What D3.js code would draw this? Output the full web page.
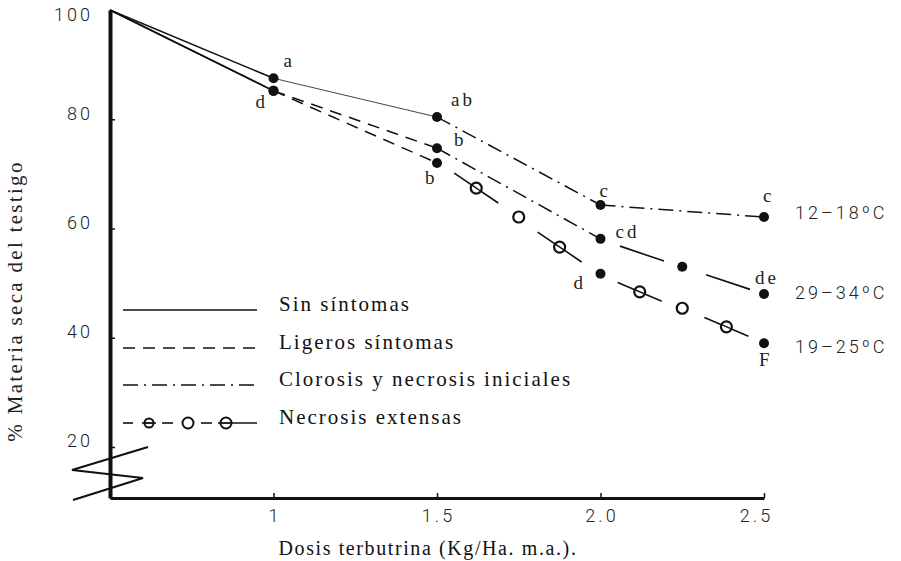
<!DOCTYPE html>
<html><head><meta charset="utf-8">
<script src="https://cdn.jsdelivr.net/npm/d3@7"></script>
<style>body{margin:0;background:#fff}</style>
</head><body>
<svg id="c" width="901" height="561"></svg>
<script>
// ---------------- data ----------------
const seriesNames = ["12–18ºC", "29–34ºC", "19–25ºC"];

const dose1218 = [0.5, 1.0, 1.5, 2.0, 2.5];
const dm1218   = [100, 87.5, 80.4, 64.3, 62.1];
const sig1218  = ["", "a", "ab", "c", "c"];
const sym1218  = ["sin", "sin", "clorosis", "clorosis"];

const dose2934 = [0.5, 1.0, 1.5, 2.0, 2.25, 2.5];
const dm2934   = [100, 85.2, 74.7, 58.1, 53.0, 48.0];
const sig2934  = ["", "d", "b", "cd", "", "de"];
const sym2934  = ["sin", "ligeros", "clorosis", "necrosis", "necrosis"];

const dose1925 = [0.5, 1.0, 1.5, 2.0, 2.5];
const dm1925   = [100, 85.2, 72.0, 51.7, 39.0];
const sig1925  = ["", "", "b", "d", "F"];
const sym1925  = ["sin", "ligeros", "necrosis", "necrosis"];

// marks of the "necrosis extensas" line pattern
const markDose1925 = [1.62, 1.75, 1.875, 2.12, 2.25, 2.385];
const markDm1925   = [67.4, 62.1, 56.6, 48.4, 45.4, 42.0];
const markType1925 = ["ringline", "ring", "ringline", "ringline", "ring", "ringline"];
const markDose2934 = [2.127, 2.39];
const markDm2934   = [55.4, 50.2];
const markType2934 = ["line", "line"];

const xTicks = [1, 1.5, 2.0, 2.5];
const xTickLabels = ["1", "1.5", "2.0", "2.5"];
const yTicks = [100, 80, 60, 40, 20];
const yAxisFloor = 10.66;   // broken axis bottom
const legendLabels = ["Sin síntomas", "Ligeros síntomas", "Clorosis y necrosis iniciales", "Necrosis extensas"];
const legendSymptoms = ["sin", "ligeros", "clorosis", "necrosis"];
const xTitle = "Dosis terbutrina (Kg/Ha. m.a.).";
const yTitle = "% Materia seca del testigo";

// ---------------- layout / styles ----------------
const INK = "#111";
const numFont = "Roboto, 'DejaVu Sans', sans-serif";
const serif = "'Liberation Serif', 'DejaVu Serif', serif";
const dashes = {sin: null, ligeros: "12 8", clorosis: "15 6 2 6"};

const svg = d3.select("#c");
const x = d3.scaleLinear().domain([0.5, 2.5]).range([110, 764]);
const y = d3.scaleLinear().domain([yAxisFloor, 100]).range([498, 10]);

// ---------------- axes ----------------
const xAxis = d3.axisBottom(x).tickValues(xTicks)
  .tickFormat((d, i) => xTickLabels[i]).tickSize(-5).tickSizeOuter(0).tickPadding(11);
const gx = svg.append("g").attr("transform", `translate(0,${y(yAxisFloor)})`).call(xAxis);
gx.select(".domain").attr("stroke", INK).attr("stroke-width", 3);
gx.selectAll(".tick line").attr("stroke", INK).attr("stroke-width", 1.5);
gx.selectAll(".tick text").attr("fill", "#222").attr("font-family", numFont)
  .attr("font-weight", 300).attr("font-size", 18).attr("letter-spacing", 3)
  .attr("dx", (d, i) => i === xTicks.length - 1 ? -8 : 1);

const yAxis = d3.axisLeft(y).tickValues(yTicks).tickSize(-5).tickSizeOuter(0).tickPadding(17);
const gy = svg.append("g").attr("transform", `translate(${x(0.5)},0)`).call(yAxis);
gy.select(".domain").attr("stroke", INK).attr("stroke-width", 4);
gy.selectAll(".tick line").attr("stroke", INK).attr("stroke-width", 1.5)
  .attr("opacity", d => d === 100 ? 0 : 1);
gy.selectAll(".tick text").attr("fill", "#222").attr("font-family", numFont)
  .attr("font-weight", 300).attr("font-size", 18).attr("letter-spacing", 3)
  .attr("y", d => d === 100 ? 5 : -6);

// axis break zigzag
const ox = x(0.5), oy = y(yAxisFloor);
svg.append("path")
  .attr("d", `M${ox-37},${oy+2}L${ox+33},${oy-20}L${ox-38},${oy-28}L${ox+38},${oy-51}`)
  .attr("fill", "none").attr("stroke", INK).attr("stroke-width", 2);

// titles
svg.append("text").attr("x", 428).attr("y", 555).attr("text-anchor", "middle")
  .attr("font-family", serif).attr("font-size", 20).attr("letter-spacing", 1.6)
  .attr("fill", INK).text(xTitle);
svg.append("text").attr("transform", "translate(22,301) rotate(-90)")
  .attr("text-anchor", "middle").attr("font-family", serif).attr("font-size", 21)
  .attr("letter-spacing", 2.3).attr("fill", "#222").text(yTitle);

// ---------------- series ----------------
const line = d3.line().x(d => x(d[0])).y(d => y(d[1]));

function drawSeries(dose, dm, sym, marks, sig, sigOff, thinIdx) {
  const g = svg.append("g");
  sym.forEach((s, i) => {
    if (s === "necrosis") return;
    g.append("path").attr("d", line([[dose[i], dm[i]], [dose[i+1], dm[i+1]]]))
      .attr("fill", "none").attr("stroke", i === thinIdx ? "#444" : INK)
      .attr("stroke-width", i === thinIdx ? 1 : 1.5)
      .attr("stroke-dasharray", dashes[s]);
  });
  if (marks) {
    marks.dose.forEach((md, j) => {
      let k = d3.bisectRight(dose, md) - 1;
      const slope = (y(dm[k+1]) - y(dm[k])) / (x(dose[k+1]) - x(dose[k]));
      const mx = x(md), my = y(marks.dm[j]);
      const t = marks.type[j];
      if (t === "line" || t === "ringline") {
        g.append("line").attr("x1", mx - 22).attr("y1", my - 22 * slope)
          .attr("x2", mx + 22).attr("y2", my + 22 * slope)
          .attr("stroke", INK).attr("stroke-width", 1.6);
      }
      if (t === "ring" || t === "ringline") {
        g.append("circle").attr("cx", mx).attr("cy", my).attr("r", 5.5)
          .attr("fill", "#fff").attr("stroke", INK).attr("stroke-width", 2.2);
        if (t === "ringline") {
          g.append("line").attr("x1", mx - 5).attr("y1", my - 5 * slope)
            .attr("x2", mx + 5).attr("y2", my + 5 * slope)
            .attr("stroke", INK).attr("stroke-width", 1.4);
        }
      }
    });
  }
  dose.forEach((d, i) => {
    if (i === 0) return;
    g.append("circle").attr("cx", x(d)).attr("cy", y(dm[i])).attr("r", 5).attr("fill", INK);
  });
  sig.forEach((s, i) => {
    if (!s) return;
    g.append("text").attr("x", x(dose[i]) + sigOff[i][0]).attr("y", y(dm[i]) + sigOff[i][1])
      .attr("font-family", serif).attr("font-size", 19).attr("letter-spacing", 3)
      .attr("fill", "#222").text(s);
  });
}

drawSeries(dose1218, dm1218, sym1218, null, sig1218,
  [null, [10, -11], [14, -11], [-1, -8], [-1, -15]], 1);
drawSeries(dose2934, dm2934, sym2934,
  {dose: markDose2934, dm: markDm2934, type: markType2934}, sig2934,
  [null, [-18, 17], [17, -2], [15, -1], null, [-9, -10]], -1);
drawSeries(dose1925, dm1925, sym1925,
  {dose: markDose1925, dm: markDm1925, type: markType1925}, sig1925,
  [null, null, [-12, 21], [-27, 15], [-5, 23]], -1);

// series names at the right
const lastPts = [[dose1218, dm1218], [dose2934, dm2934], [dose1925, dm1925]];
const nameDy = [2, 5, 10];
seriesNames.forEach((n, i) => {
  const [ds, vs] = lastPts[i];
  svg.append("text").attr("x", 795).attr("y", y(vs[vs.length - 1]) + nameDy[i])
    .attr("font-family", numFont).attr("font-weight", 300).attr("font-size", 18)
    .attr("letter-spacing", 3).attr("fill", "#222").text(n);
});

// ---------------- legend ----------------
const legY = [310, 348, 385, 423];
const lx0 = 123, lx1 = 257;
legendLabels.forEach((lab, i) => {
  const s = legendSymptoms[i];
  const gy0 = legY[i];
  if (s !== "necrosis") {
    svg.append("line").attr("x1", lx0).attr("x2", lx1).attr("y1", gy0).attr("y2", gy0)
      .attr("stroke", INK).attr("stroke-width", 1.6).attr("stroke-dasharray", dashes[s]);
  } else {
    [[123, 133], [142, 156], [162, 173], [201, 212], [218, 257]].forEach(sg => {
      svg.append("line").attr("x1", sg[0]).attr("x2", sg[1]).attr("y1", gy0).attr("y2", gy0)
        .attr("stroke", INK).attr("stroke-width", 1.6);
    });
    [[149, 4.5], [188, 5.5], [226, 5.5]].forEach(c => {
      svg.append("circle").attr("cx", c[0]).attr("cy", gy0).attr("r", c[1])
        .attr("fill", "none").attr("stroke", INK).attr("stroke-width", 2);
    });
    [149, 226].forEach(cx => {
      svg.append("line").attr("x1", cx - 4).attr("x2", cx + 4).attr("y1", gy0).attr("y2", gy0)
        .attr("stroke", INK).attr("stroke-width", 1.3);
    });
  }
  svg.append("text").attr("x", 279).attr("y", gy0 + 1)
    .attr("font-family", serif).attr("font-size", 21).attr("letter-spacing", 2)
    .attr("fill", INK).text(lab);
});
</script>
</body></html>
